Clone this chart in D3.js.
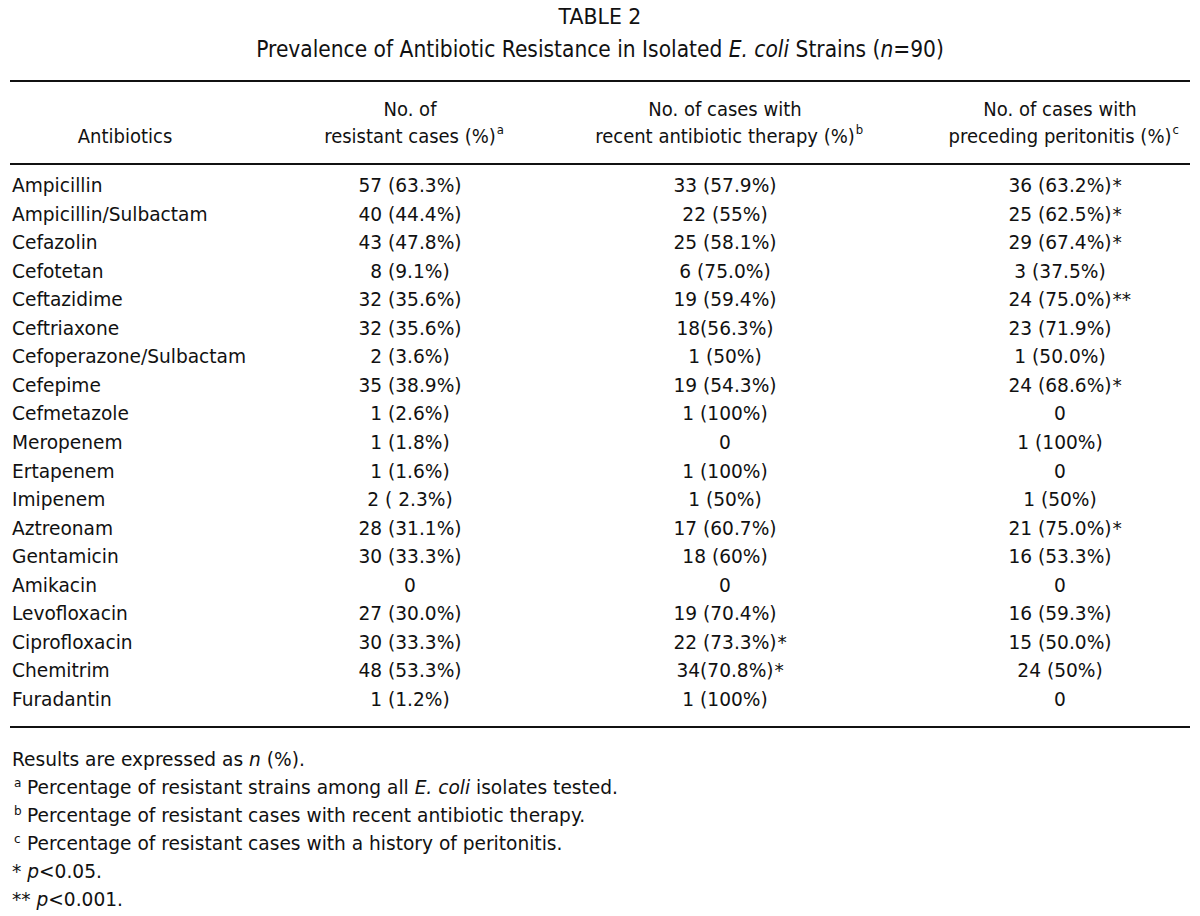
<!DOCTYPE html>
<html><head><meta charset="utf-8">
<script src="https://cdn.jsdelivr.net/npm/d3@7"></script>
<style>body{margin:0;background:#fff}svg{display:block}text{font-family:"DejaVu Sans","Open Sans",sans-serif;fill:#111}</style>
</head><body><svg id="c" width="1200" height="916"></svg>
<script>
const antibiotics = ["Ampicillin","Ampicillin/Sulbactam","Cefazolin","Cefotetan","Ceftazidime","Ceftriaxone","Cefoperazone/Sulbactam","Cefepime","Cefmetazole","Meropenem","Ertapenem","Imipenem","Aztreonam","Gentamicin","Amikacin","Levofloxacin","Ciprofloxacin","Chemitrim","Furadantin"];
const resistant = ["57 (63.3%)","40 (44.4%)","43 (47.8%)","8 (9.1%)","32 (35.6%)","32 (35.6%)","2 (3.6%)","35 (38.9%)","1 (2.6%)","1 (1.8%)","1 (1.6%)","2 ( 2.3%)","28 (31.1%)","30 (33.3%)","0","27 (30.0%)","30 (33.3%)","48 (53.3%)","1 (1.2%)"];
const therapy = ["33 (57.9%)","22 (55%)","25 (58.1%)","6 (75.0%)","19 (59.4%)","18(56.3%)","1 (50%)","19 (54.3%)","1 (100%)","0","1 (100%)","1 (50%)","17 (60.7%)","18 (60%)","0","19 (70.4%)","22 (73.3%)*","34(70.8%)*","1 (100%)"];
const peritonitis = ["36 (63.2%)*","25 (62.5%)*","29 (67.4%)*","3 (37.5%)","24 (75.0%)**","23 (71.9%)","1 (50.0%)","24 (68.6%)*","0","1 (100%)","0","1 (50%)","21 (75.0%)*","16 (53.3%)","0","16 (59.3%)","15 (50.0%)","24 (50%)","0"];
const columns = ["Antibiotics","resistant","therapy","peritonitis"];
const headers = [["Antibiotics"],["No. of","resistant cases (%)","a"],["No. of cases with","recent antibiotic therapy (%)","b"],["No. of cases with","preceding peritonitis (%)","c"]];

const svg = d3.select("#c");
const FS = 20;
function T(x, y, anchor, size, k){
  const kk = k || 0.93;
  const t = svg.append("text").attr("transform",`translate(${x},${y}) scale(${kk},1)`).attr("text-anchor",anchor).attr("font-size",size||FS);
  t.k = kk; return t;
}
const y = d3.scalePoint().domain(antibiotics).range([192, 706]);
const x = d3.scaleOrdinal().domain(columns).range([12, 410, 725, 1060]);

T(600, 24, "middle", 22).text("TABLE 2");
const st = T(600, 57, "middle", 22.5, 0.9);
st.append("tspan").text("Prevalence of Antibiotic Resistance in Isolated ");
st.append("tspan").attr("font-style","italic").text("E. coli");
st.append("tspan").text(" Strains (");
st.append("tspan").attr("font-style","italic").text("n");
st.append("tspan").text("=90)");

const rules = [81, 164, 727];
svg.selectAll("line.r").data(rules).join("line").attr("x1",10).attr("x2",1190).attr("y1",d=>d).attr("y2",d=>d).attr("stroke","#111").attr("stroke-width",1.8);

const HK = 0.9;
T(125, 143, "middle", FS, HK).text("Antibiotics");
headers.slice(1).forEach((h,i)=>{
  const cx = x(columns[i+1]);
  T(cx, 116, "middle", FS, HK).text(h[0]);
  const t = T(cx, 143, "middle", FS, HK).text(h[1]);
  const w = t.node().getComputedTextLength()*HK;
  T(cx + w/2 + 1, 134, "start", 13, HK).text(h[2]);
});

function cell(colKey, arr){
  arr.forEach((s,i)=>{
    const m = s.match(/^(.*?)(\**)$/);
    const t = T(x(colKey), y(antibiotics[i]), "middle").text(m[1]);
    if(m[2]){
      const w = t.node().getComputedTextLength()*t.k;
      T(x(colKey)+w/2+1, y(antibiotics[i]), "start").text(m[2]);
    }
  });
}
antibiotics.forEach(a=>T(x("Antibiotics"), y(a), "start").text(a));
cell("resistant", resistant);
cell("therapy", therapy);
cell("peritonitis", peritonitis);

const fy = d3.scalePoint().domain(d3.range(6)).range([766, 906]);
let f = T(12, fy(0), "start"); f.append("tspan").text("Results are expressed as "); f.append("tspan").attr("font-style","italic").text("n"); f.append("tspan").text(" (%).");
const notes = [["a","Percentage of resistant strains among all ","E. coli"," isolates tested."],["b","Percentage of resistant cases with recent antibiotic therapy."],["c","Percentage of resistant cases with a history of peritonitis."]];
notes.forEach((n,i)=>{
  T(14, fy(i+1)-7, "start", 13).text(n[0]);
  const t = T(27, fy(i+1), "start");
  t.append("tspan").text(n[1]);
  if(n[2]){ t.append("tspan").attr("font-style","italic").text(n[2]); t.append("tspan").text(n[3]); }
});
f = T(12, fy(4), "start"); f.append("tspan").text("* "); f.append("tspan").attr("font-style","italic").text("p"); f.append("tspan").text("<0.05.");
f = T(12, fy(5), "start"); f.append("tspan").text("** "); f.append("tspan").attr("font-style","italic").text("p"); f.append("tspan").text("<0.001.");
</script></body></html>
